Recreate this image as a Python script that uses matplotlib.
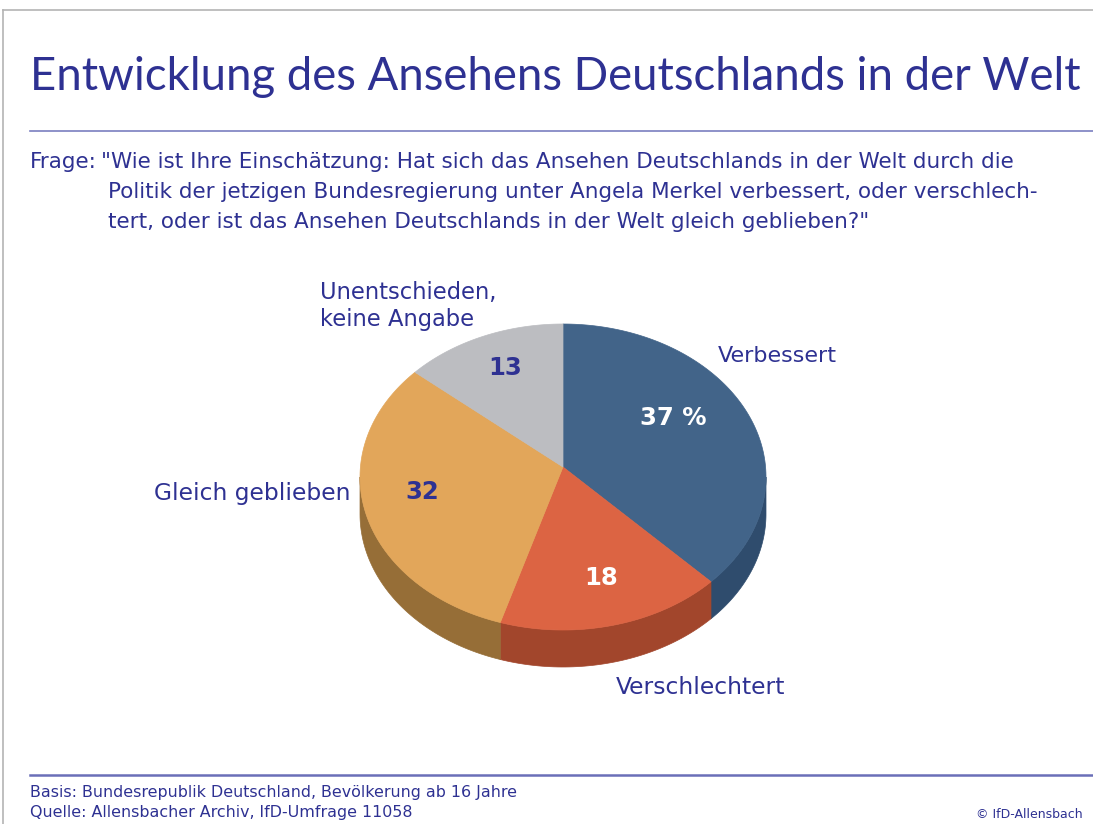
import numpy as np
import matplotlib.pyplot as plt
from matplotlib.patches import Polygon

# data
categories = ["Verbessert", "Verschlechtert", "Gleich geblieben", "Unentschieden,\nkeine Angabe"]
values = [37, 18, 32, 13]
value_labels = ["37 %", "18", "32", "13"]
top_colors = ["#426489", "#dc6443", "#e2a65a", "#bcbdc1"]
side_colors = ["#2f4c6d", "#a2462c", "#966e37", "#8f9094"]

NAVY = "#2e3192"
W, H = 1093, 824

fig = plt.figure(figsize=(W / 100, H / 100), dpi=100)
ax = fig.add_axes([0, 0, 1, 1])
ax.set_xlim(0, W)
ax.set_ylim(H, 0)
ax.axis("off")

# frame and rules
ax.plot([3, 3], [10, H], color="#b4b4b4", lw=1.2)
ax.plot([3, W], [10, 10], color="#b4b4b4", lw=1.2)
ax.plot([30, W], [131, 131], color="#7a7fc0", lw=1.2)
ax.plot([30, W], [775, 775], color="#6a6fb8", lw=1.8)

ax.text(30, 90, "Entwicklung des Ansehens Deutschlands in der Welt",
        fontsize=32.8, color=NAVY, va="baseline", ha="left", family="Lato")

q_lines = [
    '"Wie ist Ihre Einschätzung: Hat sich das Ansehen Deutschlands in der Welt durch die',
    "Politik der jetzigen Bundesregierung unter Angela Merkel verbessert, oder verschlech-",
    'tert, oder ist das Ansehen Deutschlands in der Welt gleich geblieben?"',
]
QS = 15.5
ax.text(30, 168, "Frage:", fontsize=QS, color=NAVY, va="baseline")
ax.text(101, 168, q_lines[0], fontsize=QS, color=NAVY, va="baseline")
ax.text(108, 198, q_lines[1], fontsize=QS, color=NAVY, va="baseline")
ax.text(108, 228, q_lines[2], fontsize=QS, color=NAVY, va="baseline")

# 3D pie
cx, cy, rx, ry, depth = 563, 477, 203, 153, 37
apex_y = 467
fracs = np.array(values) / sum(values)
starts = 90 - 360 * np.concatenate([[0], np.cumsum(fracs)[:-1]])
ends = starts - 360 * fracs


def ell(a_deg):
    a = np.radians(a_deg)
    return cx + rx * np.cos(a), cy - ry * np.sin(a)


# side walls (only the front half, angles in [-180, 0])
for s, e, col in zip(starts, ends, side_colors):
    for shift in (0, -360, 360):
        a0 = max(e + shift, -180)
        a1 = min(s + shift, 0)
        if a1 > a0:
            t = np.linspace(a0, a1, 60)
            xs, ys = ell(t)
            pts = np.column_stack([np.r_[xs, xs[::-1]], np.r_[ys, ys[::-1] + depth]])
            ax.add_patch(Polygon(pts, closed=True, fc=col, ec=col, lw=0.5))

# top wedges
for s, e, col in zip(starts, ends, top_colors):
    t = np.linspace(s, e, 120)
    xs, ys = ell(t)
    pts = np.column_stack([np.r_[cx, xs], np.r_[apex_y, ys]])
    ax.add_patch(Polygon(pts, closed=True, fc=col, ec=col, lw=0.5))

# value labels
val_pos = [(673, 418), (601, 578), (422, 492), (505, 368)]
val_col = ["white", "white", NAVY, NAVY]
for (x, y), txt, c in zip(val_pos, value_labels, val_col):
    ax.text(x, y, txt, fontsize=17.5, fontweight="bold", color=c, ha="center", va="center")

# category labels
LS = 16.8
ax.text(718, 356, categories[0], fontsize=16, color=NAVY, ha="left", va="center")
ax.text(616, 688, categories[1], fontsize=LS, color=NAVY, ha="left", va="center")
ax.text(351, 493, categories[2], fontsize=LS, color=NAVY, ha="right", va="center")
ax.text(320, 306, categories[3], fontsize=16.3, color=NAVY, ha="left", va="center",
        linespacing=1.25)

# footer
ax.text(30, 793, "Basis: Bundesrepublik Deutschland, Bevölkerung ab 16 Jahre",
        fontsize=11.4, color=NAVY, va="center")
ax.text(30, 813, "Quelle: Allensbacher Archiv, IfD-Umfrage 11058",
        fontsize=11.4, color=NAVY, va="center")
ax.text(1083, 814, "© IfD-Allensbach", fontsize=9, color=NAVY, ha="right", va="center")

fig.savefig("out.png", dpi=100)
